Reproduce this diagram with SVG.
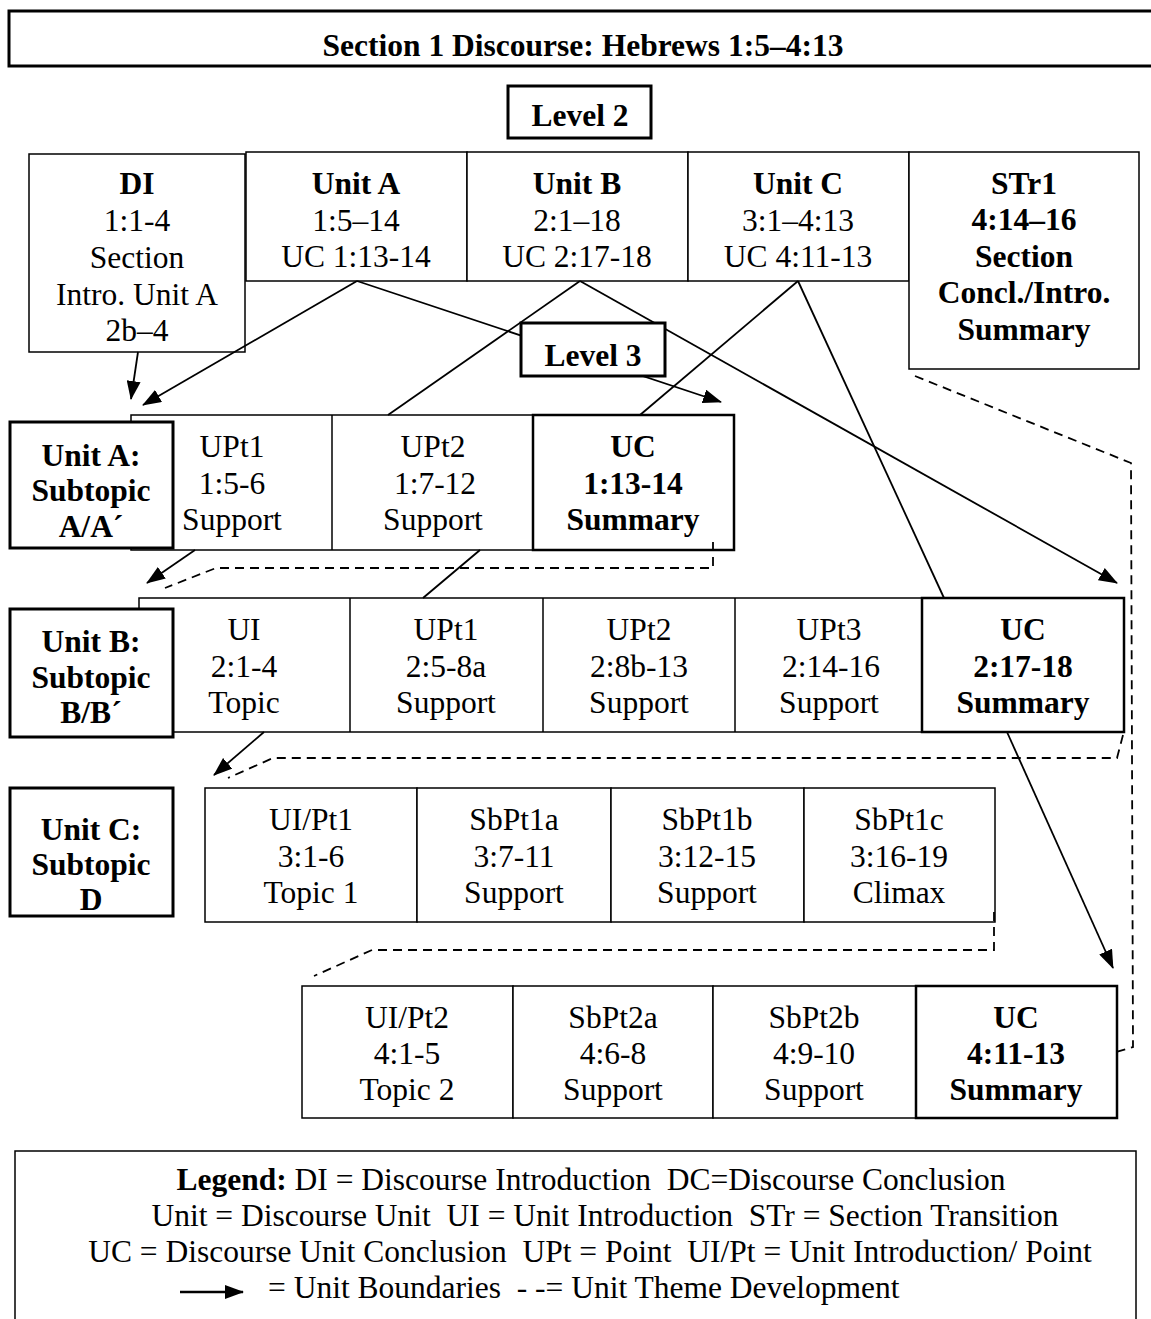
<svg xmlns="http://www.w3.org/2000/svg" width="1151" height="1319" viewBox="0 0 1151 1319">
  <style>
    text { font-family: "Liberation Serif", "Times New Roman", serif; font-size: 31.5px; fill: #000; text-anchor: middle; }
    .b { font-weight: bold; }
    .l { text-anchor: start; white-space: pre; }
    .box { fill: #fff; stroke: #000; stroke-width: 1.5; }
    .thick { fill: #fff; stroke: #000; stroke-width: 3; }
    .uc { fill: #fff; stroke: #000; stroke-width: 2.5; }
    .line { fill: none; stroke: #000; stroke-width: 1.8; }
    .arrow { fill: none; stroke: #000; stroke-width: 1.8; marker-end: url(#head); }
    .dash { fill: none; stroke: #000; stroke-width: 1.8; stroke-dasharray: 9 6; }
  </style>
  <defs>
    <marker id="head" markerUnits="userSpaceOnUse" markerWidth="20" markerHeight="14" refX="18" refY="7" orient="auto">
      <path d="M0,0 L19,7 L0,14 z" fill="#000"/>
    </marker>
  </defs>

  <rect width="1151" height="1319" fill="#fff"/>

  <!-- Title -->
  <g id="title">
    <rect class="thick" x="9" y="11" width="1160" height="55"/>
    <text class="b" x="583" y="56">Section 1 Discourse: Hebrews 1:5–4:13</text>
  </g>

  <g id="level2-label">
    <rect class="thick" x="508" y="86" width="143" height="52"/>
    <text class="b" x="580" y="126">Level 2</text>
  </g>

  <!-- Level 2 row -->
  <g id="DI">
    <rect class="box" x="29" y="154" width="216" height="198"/>
    <text class="b" x="137" y="194">DI</text>
    <text x="137" y="231">1:1-4</text>
    <text x="137" y="268">Section</text>
    <text x="137" y="305">Intro. Unit A</text>
    <text x="137" y="341">2b–4</text>
  </g>
  <g id="unitA">
    <rect class="box" x="246" y="152" width="221" height="129"/>
    <text class="b" x="356" y="194">Unit A</text>
    <text x="356" y="231">1:5–14</text>
    <text x="356" y="267">UC 1:13-14</text>
  </g>
  <g id="unitB">
    <rect class="box" x="467" y="152" width="221" height="129"/>
    <text class="b" x="577" y="194">Unit B</text>
    <text x="577" y="231">2:1–18</text>
    <text x="577" y="267">UC 2:17-18</text>
  </g>
  <g id="unitC">
    <rect class="box" x="688" y="152" width="221" height="129"/>
    <text class="b" x="798" y="194">Unit C</text>
    <text x="798" y="231">3:1–4:13</text>
    <text x="798" y="267">UC 4:11-13</text>
  </g>
  <g id="STr1">
    <rect class="box" x="909" y="152" width="230" height="217"/>
    <text class="b" x="1024" y="194">STr1</text>
    <text class="b" x="1024" y="230">4:14–16</text>
    <text class="b" x="1024" y="267">Section</text>
    <text class="b" x="1024" y="303">Concl./Intro.</text>
    <text class="b" x="1024" y="340">Summary</text>
  </g>

  <!-- Unit A row -->
  <g id="rowA">
    <rect class="box" x="131" y="415" width="402" height="135"/>
    <line class="line" x1="332" y1="415" x2="332" y2="550" style="stroke-width:1.5"/>
  </g>
  <g id="A-UPt1">
    <text x="232" y="457">UPt1</text>
    <text x="232" y="494">1:5-6</text>
    <text x="232" y="530">Support</text>
  </g>
  <g id="A-UPt2">
    <text x="433" y="457">UPt2</text>
    <text x="435" y="494">1:7-12</text>
    <text x="433" y="530">Support</text>
  </g>
  <g id="A-UC">
    <rect class="uc" x="533" y="415" width="201" height="135"/>
    <text class="b" x="633" y="457">UC</text>
    <text class="b" x="633" y="494">1:13-14</text>
    <text class="b" x="633" y="530">Summary</text>
  </g>
  <g id="labelA">
    <rect class="thick" x="10" y="422" width="163" height="126"/>
    <text class="b" x="91" y="466">Unit A:</text>
    <text class="b" x="91" y="501">Subtopic</text>
    <text class="b" x="91" y="537">A/A´</text>
  </g>

  <!-- Unit B row -->
  <g id="rowB">
    <rect class="box" x="139" y="598" width="783" height="134"/>
    <line class="line" x1="350" y1="598" x2="350" y2="732" style="stroke-width:1.5"/>
    <line class="line" x1="543" y1="598" x2="543" y2="732" style="stroke-width:1.5"/>
    <line class="line" x1="735" y1="598" x2="735" y2="732" style="stroke-width:1.5"/>
  </g>
  <g id="B-UI">
    <text x="244" y="640">UI</text>
    <text x="244" y="677">2:1-4</text>
    <text x="244" y="713">Topic</text>
  </g>
  <g id="B-UPt1">
    <text x="446" y="640">UPt1</text>
    <text x="446" y="677">2:5-8a</text>
    <text x="446" y="713">Support</text>
  </g>
  <g id="B-UPt2">
    <text x="639" y="640">UPt2</text>
    <text x="639" y="677">2:8b-13</text>
    <text x="639" y="713">Support</text>
  </g>
  <g id="B-UPt3">
    <text x="829" y="640">UPt3</text>
    <text x="831" y="677">2:14-16</text>
    <text x="829" y="713">Support</text>
  </g>
  <g id="B-UC">
    <rect class="uc" x="922" y="598" width="202" height="134"/>
    <text class="b" x="1023" y="640">UC</text>
    <text class="b" x="1023" y="677">2:17-18</text>
    <text class="b" x="1023" y="713">Summary</text>
  </g>
  <g id="labelB">
    <rect class="thick" x="10" y="609" width="163" height="128"/>
    <text class="b" x="91" y="652">Unit B:</text>
    <text class="b" x="91" y="688">Subtopic</text>
    <text class="b" x="91" y="723">B/B´</text>
  </g>

  <!-- Unit C rows -->
  <g id="labelC">
    <rect class="thick" x="10" y="788" width="163" height="128"/>
    <text class="b" x="91" y="840">Unit C:</text>
    <text class="b" x="91" y="875">Subtopic</text>
    <text class="b" x="91" y="910">D</text>
  </g>
  <g id="C-UIPt1">
    <rect class="box" x="205" y="788" width="212" height="134"/>
    <text x="311" y="830">UI/Pt1</text>
    <text x="311" y="867">3:1-6</text>
    <text x="311" y="903">Topic 1</text>
  </g>
  <g id="C-SbPt1a">
    <rect class="box" x="417" y="788" width="194" height="134"/>
    <text x="514" y="830">SbPt1a</text>
    <text x="514" y="867">3:7-11</text>
    <text x="514" y="903">Support</text>
  </g>
  <g id="C-SbPt1b">
    <rect class="box" x="611" y="788" width="193" height="134"/>
    <text x="707" y="830">SbPt1b</text>
    <text x="707" y="867">3:12-15</text>
    <text x="707" y="903">Support</text>
  </g>
  <g id="C-SbPt1c">
    <rect class="box" x="804" y="788" width="191" height="134"/>
    <text x="899" y="830">SbPt1c</text>
    <text x="899" y="867">3:16-19</text>
    <text x="899" y="903">Climax</text>
  </g>
  <g id="C-UIPt2">
    <rect class="box" x="302" y="986" width="211" height="132"/>
    <text x="407" y="1028">UI/Pt2</text>
    <text x="407" y="1064">4:1-5</text>
    <text x="407" y="1100">Topic 2</text>
  </g>
  <g id="C-SbPt2a">
    <rect class="box" x="513" y="986" width="200" height="132"/>
    <text x="613" y="1028">SbPt2a</text>
    <text x="613" y="1064">4:6-8</text>
    <text x="613" y="1100">Support</text>
  </g>
  <g id="C-SbPt2b">
    <rect class="box" x="713" y="986" width="203" height="132"/>
    <text x="814" y="1028">SbPt2b</text>
    <text x="814" y="1064">4:9-10</text>
    <text x="814" y="1100">Support</text>
  </g>
  <g id="C-UC">
    <rect class="uc" x="916" y="986" width="201" height="132"/>
    <text class="b" x="1016" y="1028">UC</text>
    <text class="b" x="1016" y="1064">4:11-13</text>
    <text class="b" x="1016" y="1100">Summary</text>
  </g>

  <!-- Connectors -->
  <g id="connectors">
    <line class="arrow" x1="138" y1="352" x2="131" y2="399"/>
    <line class="arrow" x1="357" y1="281" x2="143" y2="405"/>
    <line class="arrow" x1="357" y1="281" x2="721" y2="402"/>
    <line class="line" x1="580" y1="281" x2="388" y2="415"/>
    <line class="arrow" x1="580" y1="281" x2="1117" y2="583"/>
    <line class="line" x1="798" y1="281" x2="640" y2="415"/>
    <line class="line" x1="798" y1="281" x2="944" y2="598"/>
    <line class="arrow" x1="195" y1="550" x2="147" y2="583"/>
    <line class="line" x1="480" y1="550" x2="423" y2="598"/>
    <line class="arrow" x1="264" y1="732" x2="214" y2="775"/>
    <line class="arrow" x1="1007" y1="732" x2="1113" y2="968"/>
    <polyline class="dash" points="713,542 713,568 216,568 165,588"/>
    <polyline class="dash" points="1123,735 1117,758 273,758 228,778"/>
    <polyline class="dash" points="994,912 994,950 372,950 314,976"/>
    <polyline class="dash" points="915,376 1131,463 1133,1047 1116,1052"/>
  </g>

  <g id="level3-label">
    <rect class="thick" x="521" y="323" width="144" height="53"/>
    <text class="b" x="593" y="366">Level 3</text>
  </g>

  <!-- Legend -->
  <g id="legend">
    <rect class="box" x="15" y="1151" width="1121" height="180"/>
    <text x="591" y="1190" style="white-space:pre"><tspan class="b">Legend:</tspan> DI = Discourse Introduction  DC=Discourse Conclusion</text>
    <text x="605" y="1226" style="white-space:pre">Unit = Discourse Unit  UI = Unit Introduction  STr = Section Transition</text>
    <text x="590" y="1262" style="white-space:pre">UC = Discourse Unit Conclusion  UPt = Point  UI/Pt = Unit Introduction/ Point</text>
    <line x1="180" y1="1292" x2="243" y2="1292" stroke="#000" stroke-width="2.5" marker-end="url(#head)"/>
    <text class="l" x="268" y="1298">= Unit Boundaries  - -= Unit Theme Development</text>
  </g>
</svg>
